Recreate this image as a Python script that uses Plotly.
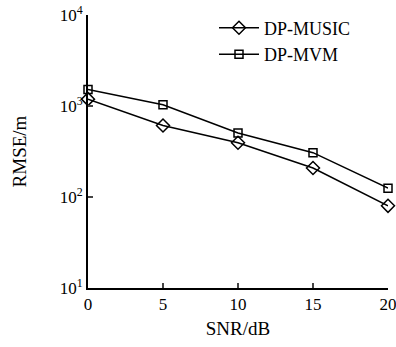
import plotly.graph_objects as go

snr = [0, 5, 10, 15, 20]
dp_music = [1190, 610, 395, 208, 80]
dp_mvm = [1520, 1030, 505, 307, 125]
y_tick_vals = [10, 100, 1000, 10000]
y_tick_text = ["10<sup>1</sup>", "10<sup>2</sup>", "10<sup>3</sup>", "10<sup>4</sup>"]
x_tick_vals = [0, 5, 10, 15, 20]

font = "Times New Roman"

fig = go.Figure()
fig.add_trace(go.Scatter(
    x=snr, y=dp_music, name="DP-MUSIC", mode="lines+markers",
    line=dict(color="black", width=1.5),
    marker=dict(symbol="diamond-open", size=10, color="black", line=dict(width=1.5)),
    cliponaxis=False,
))
fig.add_trace(go.Scatter(
    x=snr, y=dp_mvm, name="DP-MVM", mode="lines+markers",
    line=dict(color="black", width=1.5),
    marker=dict(symbol="square-open", size=8, color="black", line=dict(width=1.5)),
    cliponaxis=False,
))

fig.update_layout(
    width=396, height=347,
    margin=dict(l=88, r=8, t=15, b=59, autoexpand=False),
    paper_bgcolor="white", plot_bgcolor="white",
    font=dict(family=font, size=17, color="black"),
    showlegend=True,
    legend=dict(x=0.42, y=1.02, xanchor="left", yanchor="top",
                bgcolor="rgba(0,0,0,0)", font=dict(size=18, family=font),
                tracegroupgap=0, itemwidth=40),
)
fig.update_xaxes(
    range=[0, 20], tickvals=x_tick_vals, ticks="inside", ticklen=5, tickwidth=1.5,
    showline=True, linecolor="black", linewidth=2, showgrid=False, zeroline=False,
    tickfont=dict(size=17, family=font), ticklabeloverflow="allow",
    title=dict(text="SNR/dB", font=dict(size=19, family=font), standoff=8),
)
fig.update_yaxes(
    type="log", range=[1, 4], tickvals=y_tick_vals, ticktext=y_tick_text,
    ticks="inside", ticklen=5, tickwidth=1.5,
    showline=True, linecolor="black", linewidth=2, showgrid=False, zeroline=False,
    tickfont=dict(size=17, family=font), ticklabeloverflow="allow",
    title=dict(text="RMSE/m", font=dict(size=19, family=font), standoff=28),
)

fig.write_html("out.html", config={"displayModeBar": False},
               post_script="document.body.style.margin='0';")
